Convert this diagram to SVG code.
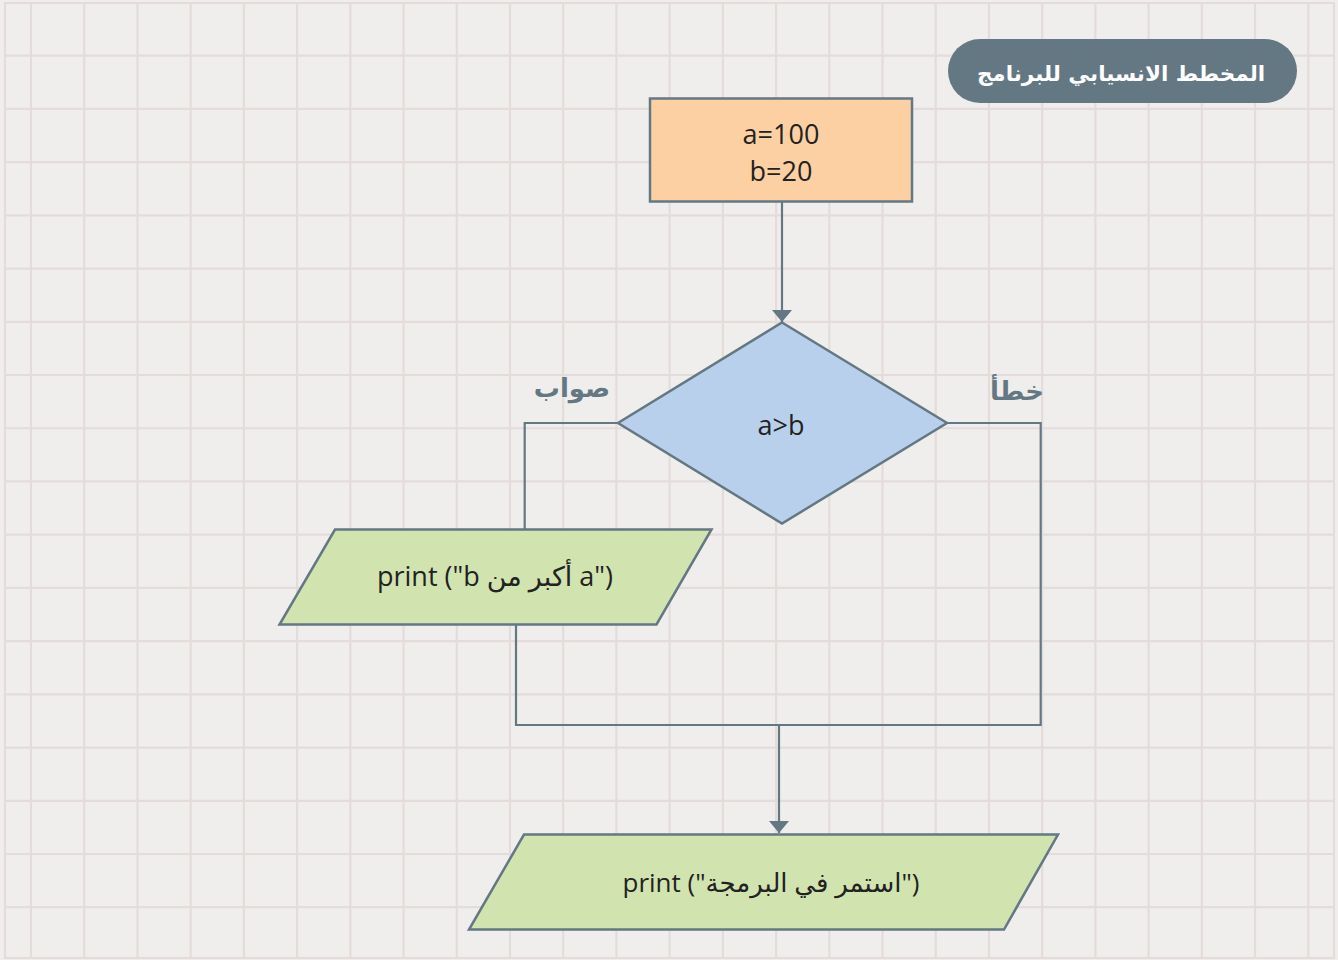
<svg xmlns="http://www.w3.org/2000/svg" width="1338" height="960" viewBox="0 0 1338 960">
<style>
.grid{fill:none;stroke:#e4dcdb;stroke-width:2.2}
.shape{stroke:#637882;stroke-width:2.5}
.conn{fill:none;stroke:#637882;stroke-width:2.2}
.t{font-family:"Open Sans","DejaVu Sans",sans-serif;font-size:27px;fill:#222;text-anchor:middle;direction:ltr}
.lbl{font-family:"DejaVu Sans",sans-serif;font-size:26px;font-weight:bold;fill:#637882;text-anchor:middle}
.title{font-family:"DejaVu Sans",sans-serif;font-size:21.5px;font-weight:bold;fill:#ffffff;text-anchor:middle}
</style>
<defs>
<marker id="arr" viewBox="0 0 12 20" refX="12" refY="10" markerWidth="12" markerHeight="20" markerUnits="userSpaceOnUse" orient="auto">
<path d="M0,0 L12,10 L0,20 Z" fill="#637882"/>
</marker>
</defs>
<rect x="0" y="0" width="1338" height="960" fill="#f0eeec"/>
<g id="grid">
<path class="grid" d="M31,3V958M84.22,3V958M137.44,3V958M190.66,3V958M243.88,3V958M297.1,3V958M350.32,3V958M403.54,3V958M456.76,3V958M509.98,3V958M563.2,3V958M616.42,3V958M669.64,3V958M722.86,3V958M776.08,3V958M829.3,3V958M882.52,3V958M935.74,3V958M988.96,3V958M1042.18,3V958M1095.4,3V958M1148.62,3V958M1201.84,3V958M1255.06,3V958M1308.28,3V958"/>
<path class="grid" d="M5,55.7H1334M5,108.92H1334M5,162.14H1334M5,215.36H1334M5,268.58H1334M5,321.8H1334M5,375.02H1334M5,428.24H1334M5,481.46H1334M5,534.68H1334M5,587.9H1334M5,641.12H1334M5,694.34H1334M5,747.56H1334M5,800.78H1334M5,854H1334M5,907.22H1334"/>
<rect class="grid" x="5" y="3" width="1329" height="955"/>
</g>
<g id="title">
<rect x="948" y="39" width="349" height="64" rx="32" fill="#637882"/>
<text class="title" x="1121" y="81">المخطط الانسيابي للبرنامج</text>
</g>
<g id="connectors">
<path class="conn" d="M782,202V322" marker-end="url(#arr)"/>
<path class="conn" d="M618,423H524.7V529"/>
<path class="conn" d="M947,423H1040.7V725H516V625"/>
<path class="conn" d="M779,725V833" marker-end="url(#arr)"/>
</g>
<g id="init">
<rect class="shape" x="650" y="98.5" width="262" height="103" fill="#fdd0a3"/>
<text class="t" x="781" y="144">a=100</text>
<text class="t" x="781" y="181">b=20</text>
</g>
<g id="decision">
<polygon class="shape" points="782,322.5 947,423 782,523.5 618,423" fill="#b9d0ec"/>
<text class="t" x="781" y="435">a&gt;b</text>
</g>
<g id="label-true">
<text class="lbl" x="572" y="397">صواب</text>
</g>
<g id="label-false">
<text class="lbl" x="1017" y="400">خطأ</text>
</g>
<g id="print-true">
<polygon class="shape" points="335,529.5 711.5,529.5 656.5,624.5 279.5,624.5" fill="#d1e4b0"/>
<text class="t" x="495" y="586">print ("b أكبر من a")</text>
</g>
<g id="print-continue">
<polygon class="shape" points="524,834.5 1058,834.5 1004,929.5 469,929.5" fill="#d1e4b0"/>
<text class="t" x="771" y="892" style="font-size:26px">print ("استمر في البرمجة")</text>
</g>
</svg>
